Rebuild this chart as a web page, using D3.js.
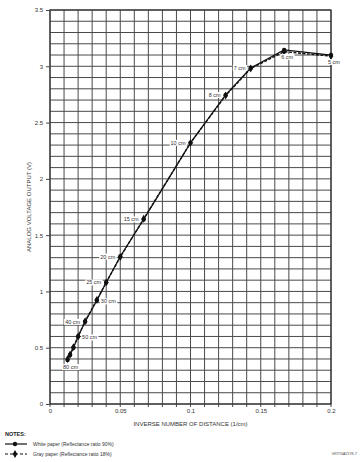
<!DOCTYPE html>
<html><head><meta charset="utf-8">
<script src="https://cdn.jsdelivr.net/npm/d3@7"></script>
<style>body{margin:0;background:#fff}svg{display:block;font-family:"Liberation Sans",Arial,sans-serif}</style>
</head><body><svg id="c" width="361" height="462"></svg>
<script>
const distances = [80, 70, 60, 50, 40, 30, 25, 20, 15, 10, 8, 7, 6, 5];
const whiteVals = [0.39, 0.435, 0.50, 0.60, 0.73, 0.92, 1.08, 1.31, 1.64, 2.32, 2.745, 2.985, 3.145, 3.10];
const grayVals  = [0.40, 0.44, 0.505, 0.60, 0.735, 0.925, 1.08, 1.305, 1.645, 2.32, 2.74, 2.98, 3.13, 3.09];
const labelDist = [80, 50, 40, 30, 25, 20, 15, 10, 8, 7, 6, 5];
const labelSide = ["below", "right", "left", "right", "left", "left", "left", "left", "left", "left", "below", "below"];
const yTicks = [0, 0.5, 1, 1.5, 2, 2.5, 3, 3.5];
const xTicks = [0, 0.05, 0.1, 0.15, 0.2];
const legendItems = ["White paper (Reflectance ratio 90%)", "Gray paper (Reflectance ratio 18%)"];

const svg = d3.select("#c");
const L = 50, R = 331, T = 10, B = 404;
const x = d3.scaleLinear().domain([0, 0.2]).range([L, R]);
const y = d3.scaleLinear().domain([0, 3.5]).range([B, T]);
const txt = "#333";

// grid
const g = svg.append("g");
g.selectAll(".vx").data(d3.range(0, 21)).enter().append("line")
  .attr("x1", i => x(i * 0.01)).attr("x2", i => x(i * 0.01))
  .attr("y1", T).attr("y2", B + 3).attr("stroke", "#4a4a4a").attr("stroke-width", 1);
g.selectAll(".hy").data(d3.range(0, 36)).enter().append("line")
  .attr("y1", i => y(i * 0.1)).attr("y2", i => y(i * 0.1))
  .attr("x1", L).attr("x2", R).attr("stroke", "#4a4a4a").attr("stroke-width", 1);
g.append("rect").attr("x", L).attr("y", T).attr("width", R - L).attr("height", B - T)
  .attr("fill", "none").attr("stroke", "#333").attr("stroke-width", 1.2);

// axes
const ya = svg.append("g").attr("transform", `translate(${L},0)`)
  .call(d3.axisLeft(y).tickValues(yTicks).tickSize(4).tickFormat(d3.format("")));
ya.select(".domain").remove();
ya.selectAll("line").attr("stroke", "#444");
ya.selectAll("text").attr("fill", txt).attr("font-size", 6).attr("font-family", "Liberation Sans, Arial, sans-serif");
const xa = svg.append("g").attr("transform", `translate(0,${B})`)
  .call(d3.axisBottom(x).tickValues(xTicks).tickSize(0).tickPadding(5).tickFormat(d3.format("")));
xa.select(".domain").remove();
xa.selectAll("text").attr("fill", txt).attr("font-size", 6).attr("font-family", "Liberation Sans, Arial, sans-serif");

// titles
svg.append("text").attr("transform", `translate(31,${(T + B) / 2}) rotate(-90)`)
  .attr("text-anchor", "middle").attr("font-size", 6).attr("fill", txt).text("ANALOG VOLTAGE OUTPUT (V)");
svg.append("text").attr("x", (L + R) / 2).attr("y", 426).attr("text-anchor", "middle")
  .attr("font-size", 6).attr("fill", txt).text("INVERSE NUMBER OF DISTANCE (1/cm)");

// series
const white = distances.map((d, i) => ({d, x: 1 / d, v: whiteVals[i]}));
const gray = distances.map((d, i) => ({d, x: 1 / d, v: grayVals[i]}));
const line = d3.line().x(p => x(p.x)).y(p => y(p.v));
svg.append("path").attr("d", line(gray)).attr("fill", "none").attr("stroke", "#111")
  .attr("stroke-width", 1.4).attr("stroke-dasharray", "3,1.5");
svg.append("path").attr("d", line(white)).attr("fill", "none").attr("stroke", "#111").attr("stroke-width", 1.2);
svg.selectAll(".gm").data(gray).enter().append("path")
  .attr("transform", p => `translate(${x(p.x)},${y(p.v)})`)
  .attr("d", d3.symbol(d3.symbolDiamond, 18)).attr("fill", "#111");
svg.selectAll(".wm").data(white).enter().append("circle")
  .attr("cx", p => x(p.x)).attr("cy", p => y(p.v)).attr("r", 2.2).attr("fill", "#111");

// labels
labelDist.forEach((d, i) => {
  const p = white.find(q => q.d === d);
  const px = x(p.x), py = y(p.v);
  const side = labelSide[i];
  let tx, ty, anchor;
  if (side === "left") { tx = px - 5; ty = py + 2; anchor = "end"; }
  else if (side === "right") { tx = px + 4; ty = py + 3; anchor = "start"; }
  else { tx = px + 3; ty = py + 9; anchor = "middle"; }
  const t = svg.append("text").attr("x", tx).attr("y", ty).attr("text-anchor", anchor)
    .attr("font-size", 5.5).attr("fill", txt).text(d + " cm");
  const bb = t.node().getBBox();
  svg.insert("rect", () => t.node()).attr("x", bb.x - 1).attr("y", bb.y).attr("width", bb.width + 2)
    .attr("height", bb.height).attr("fill", "#fff");
});

// notes / legend
svg.append("text").attr("x", 5).attr("y", 436).attr("font-size", 5.5).attr("font-weight", "bold")
  .attr("fill", "#222").text("NOTES:");
legendItems.forEach((s, i) => {
  const ly = 444 + i * 10;
  svg.append("line").attr("x1", 5).attr("x2", 27).attr("y1", ly).attr("y2", ly)
    .attr("stroke", "#111").attr("stroke-width", 1.2).attr("stroke-dasharray", i ? "3,2" : null);
  if (i === 0) svg.append("circle").attr("cx", 15).attr("cy", ly).attr("r", 2.2).attr("fill", "#111");
  else svg.append("path").attr("transform", `translate(15,${ly})`).attr("d", d3.symbol(d3.symbolDiamond, 18)).attr("fill", "#111");
  svg.append("text").attr("x", 33).attr("y", ly + 2).attr("font-size", 5).attr("fill", txt).text(s);
});
svg.append("text").attr("x", 357).attr("y", 455).attr("text-anchor", "end").attr("font-size", 3.5)
  .attr("fill", "#444").text("GP2Y0A21YK-7");
</script></body></html>
